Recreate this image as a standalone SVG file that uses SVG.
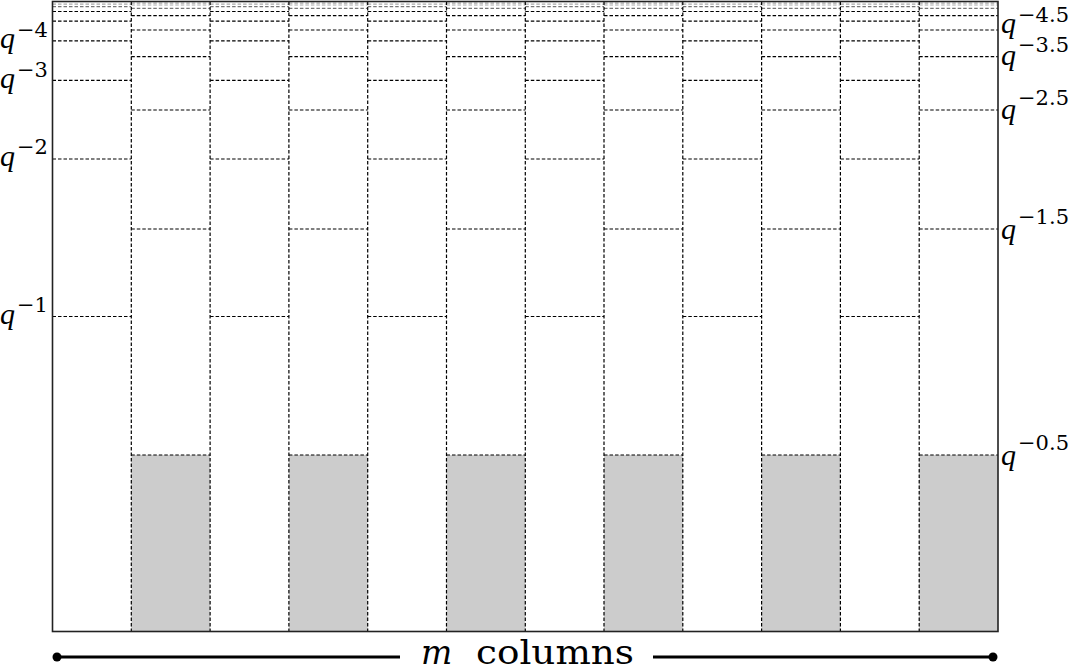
<svg xmlns="http://www.w3.org/2000/svg" xmlns:xlink="http://www.w3.org/1999/xlink" width="1072" height="671" viewBox="0 0 1072 671">
<style>
.h{stroke:#000;stroke-width:1.2;stroke-dasharray:3.5 2;fill:none}
.g1{stroke:#777}
.g2{stroke:#aaa}
.v{stroke:#000;stroke-width:1.2;stroke-dasharray:3.5 2;fill:none}
.shade{fill:#cccccc;stroke:none}
.frame{fill:none;stroke:#222;stroke-width:1.6}
.q{font-family:"Liberation Serif","DejaVu Serif",serif;font-style:italic;font-size:30px;fill:#000}
.s{font-family:"DejaVu Serif","Liberation Serif",serif;font-size:21px;fill:#000}
.dim{stroke:#000;stroke-width:3;fill:none}
.lbl{font-family:"DejaVu Serif","Liberation Serif",serif;font-size:33px;fill:#000}
</style>
<defs>
<g id="oddLines">
<line class="h" x1="0" y1="316.5" x2="78.8" y2="316.5"/>
<line class="h" x1="0" y1="159" x2="78.8" y2="159"/>
<line class="h" x1="0" y1="80.3" x2="78.8" y2="80.3"/>
<line class="h" x1="0" y1="40.9" x2="78.8" y2="40.9"/>
<line class="h" x1="0" y1="21.2" x2="78.8" y2="21.2"/>
<line class="h" x1="0" y1="11.5" x2="78.8" y2="11.5"/>
<line class="h g1" x1="0" y1="6.6" x2="78.8" y2="6.6"/>
<line class="h g2" x1="0" y1="4.1" x2="78.8" y2="4.1"/>
</g>
<g id="evenLines">
<line class="h" x1="0" y1="455" x2="78.8" y2="455"/>
<line class="h" x1="0" y1="229" x2="78.8" y2="229"/>
<line class="h" x1="0" y1="110" x2="78.8" y2="110"/>
<line class="h" x1="0" y1="56.7" x2="78.8" y2="56.7"/>
<line class="h" x1="0" y1="30" x2="78.8" y2="30"/>
<line class="h" x1="0" y1="15.7" x2="78.8" y2="15.7"/>
<line class="h g1" x1="0" y1="8.4" x2="78.8" y2="8.4"/>
<line class="h g2" x1="0" y1="5" x2="78.8" y2="5"/>
<line class="h g2" x1="0" y1="3.2" x2="78.8" y2="3.2"/>
</g>
</defs>
<rect width="1072" height="671" fill="#fff"/>
<g id="columns">
<g id="col1"><use xlink:href="#oddLines" x="52.5"/></g>
<g id="col2"><rect class="shade" x="131.3" y="455" width="78.8" height="176.5"/><use xlink:href="#evenLines" x="131.3"/></g>
<g id="col3"><use xlink:href="#oddLines" x="210.1"/></g>
<g id="col4"><rect class="shade" x="288.9" y="455" width="78.8" height="176.5"/><use xlink:href="#evenLines" x="288.9"/></g>
<g id="col5"><use xlink:href="#oddLines" x="367.7"/></g>
<g id="col6"><rect class="shade" x="446.5" y="455" width="78.8" height="176.5"/><use xlink:href="#evenLines" x="446.5"/></g>
<g id="col7"><use xlink:href="#oddLines" x="525.3"/></g>
<g id="col8"><rect class="shade" x="604" y="455" width="78.8" height="176.5"/><use xlink:href="#evenLines" x="604"/></g>
<g id="col9"><use xlink:href="#oddLines" x="682.8"/></g>
<g id="col10"><rect class="shade" x="761.6" y="455" width="78.8" height="176.5"/><use xlink:href="#evenLines" x="761.6"/></g>
<g id="col11"><use xlink:href="#oddLines" x="840.4"/></g>
<g id="col12"><rect class="shade" x="919.2" y="455" width="78.8" height="176.5"/><use xlink:href="#evenLines" x="919.2"/></g>
</g>
<g id="dividers">
<line class="v" x1="131.3" y1="1.5" x2="131.3" y2="631.5"/>
<line class="v" x1="210.1" y1="1.5" x2="210.1" y2="631.5"/>
<line class="v" x1="288.9" y1="1.5" x2="288.9" y2="631.5"/>
<line class="v" x1="367.7" y1="1.5" x2="367.7" y2="631.5"/>
<line class="v" x1="446.5" y1="1.5" x2="446.5" y2="631.5"/>
<line class="v" x1="525.3" y1="1.5" x2="525.3" y2="631.5"/>
<line class="v" x1="604" y1="1.5" x2="604" y2="631.5"/>
<line class="v" x1="682.8" y1="1.5" x2="682.8" y2="631.5"/>
<line class="v" x1="761.6" y1="1.5" x2="761.6" y2="631.5"/>
<line class="v" x1="840.4" y1="1.5" x2="840.4" y2="631.5"/>
<line class="v" x1="919.2" y1="1.5" x2="919.2" y2="631.5"/>
</g>
<rect id="frame" class="frame" x="52.5" y="1.5" width="945.5" height="630"/>
<g id="left-labels">
<g id="lq4"><text class="q" x="0" y="48">q</text><text class="s" x="17" y="37">−4</text></g>
<g id="lq3"><text class="q" x="0" y="88">q</text><text class="s" x="17" y="77">−3</text></g>
<g id="lq2"><text class="q" x="0" y="166">q</text><text class="s" x="17" y="154">−2</text></g>
<g id="lq1"><text class="q" x="0" y="324">q</text><text class="s" x="17" y="312">−1</text></g>
</g>
<g id="right-labels">
<g id="rq45"><text class="q" x="1001" y="33">q</text><text class="s" x="1018" y="22">−4.5</text></g>
<g id="rq35"><text class="q" x="1001" y="65">q</text><text class="s" x="1018" y="52">−3.5</text></g>
<g id="rq25"><text class="q" x="1001" y="119">q</text><text class="s" x="1018" y="105">−2.5</text></g>
<g id="rq15"><text class="q" x="1001" y="239">q</text><text class="s" x="1018" y="224">−1.5</text></g>
<g id="rq05"><text class="q" x="1001" y="465">q</text><text class="s" x="1018" y="450">−0.5</text></g>
</g>
<g id="connectors">
<line class="dim" x1="57" y1="657" x2="400" y2="657"/>
<line class="dim" x1="653" y1="657" x2="993" y2="657"/>
<circle cx="57" cy="657" r="4.5" fill="#000"/>
<circle cx="993" cy="657" r="4.5" fill="#000"/>
</g>
<g id="dim-label">
<text class="lbl" x="421" y="664" font-style="italic">m</text>
<text class="lbl" x="476" y="664" textLength="158" lengthAdjust="spacingAndGlyphs">columns</text>
</g>
</svg>
